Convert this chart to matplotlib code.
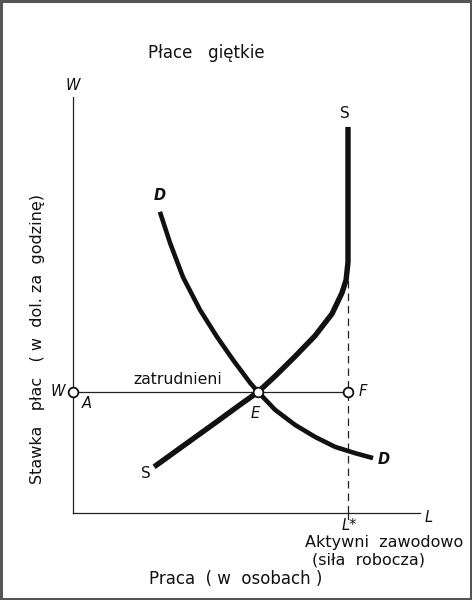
import matplotlib
matplotlib.use("Agg")
import matplotlib.pyplot as plt
from matplotlib.patches import Rectangle

# ---- data (economic units: labour L on x, wage W on y) ----
L_star = 100.0
W_star = 29.1
E_point = (67.3, 29.1)

supply_L = [29.5, 40.0, 52.4, 60.7, 67.3, 73.5, 80.7, 88.0, 94.2, 97.8, 99.3, 100.0, 100.0]
supply_W = [11.1, 16.1, 22.0, 26.0, 29.1, 32.9, 37.6, 42.6, 47.9, 52.9, 56.0, 60.3, 92.8]

demand_L = [31.6, 35.3, 40.0, 46.2, 52.4, 58.2, 64.4, 67.3, 73.5, 80.7, 88.0, 95.3, 102.5, 109.1]
demand_W = [72.4, 64.9, 56.7, 48.8, 42.3, 36.8, 31.3, 29.1, 24.8, 21.2, 18.3, 15.9, 14.4, 13.2]

title = "Płace   giętkie"
ylabel = "Stawka   płac   ( w  dol. za  godzinę)"
xlabel = "Praca  ( w  osobach )"
lf_label = ["Aktywni  zawodowo", "(siła  robocza)"]

W_PX, H_PX = 472, 600
fig = plt.figure(figsize=(W_PX / 100, H_PX / 100), dpi=100)
fig.patch.set_facecolor("white")

# axes box in pixels: x 73..420, y 97..513
x0, x1, y0, y1 = 73, 420, 97, 513
ax = fig.add_axes([x0 / W_PX, 1 - y1 / H_PX, (x1 - x0) / W_PX, (y1 - y0) / H_PX])
ax.set_xlim(0, (x1 - x0) / 2.75)
ax.set_ylim(0, 100)
for s in ["top", "right"]:
    ax.spines[s].set_visible(False)
for s in ["left", "bottom"]:
    ax.spines[s].set_linewidth(0.9)
    ax.spines[s].set_color("#222222")
ax.set_xticks([])
ax.set_yticks([])
ax.patch.set_alpha(0)

ink = "#111111"
# horizontal wage line and dashed labour-force line
ax.plot([0, L_star], [W_star, W_star], color="#222222", lw=0.9, zorder=2)
ax.plot([L_star, L_star], [0, 57], color="#222222", lw=0.9, ls=(0, (6, 4)), zorder=2)
# tick at L*
ax.plot([L_star, L_star], [0, -1.5], color="#222222", lw=0.9, clip_on=False)

ax.plot(supply_L, supply_W, color=ink, lw=3.9, solid_capstyle="butt",
        solid_joinstyle="round", zorder=3, clip_on=False)
ax.plot(demand_L, demand_W, color=ink, lw=3.3, solid_capstyle="butt",
        solid_joinstyle="round", zorder=3, clip_on=False)

ax.plot([0, E_point[0], L_star], [W_star, W_star, W_star], ls="none", marker="o",
        ms=7, mfc="white", mec=ink, mew=1.3, zorder=5, clip_on=False)

def ftext(px, py, s, **kw):
    kw.setdefault("fontsize", 10.5)
    kw.setdefault("color", ink)
    kw.setdefault("ha", "center")
    kw.setdefault("va", "center")
    fig.text(px / W_PX, 1 - py / H_PX, s, **kw)

ftext(206, 53, title, fontsize=12)
ftext(73, 86, "W", style="italic")
ftext(345, 113, "S", fontsize=11)
ftext(146, 474, "S", fontsize=11)
ftext(160, 196, "D", weight="bold", style="italic")
ftext(384, 459, "D", weight="bold", style="italic")
ftext(178, 380, "zatrudnieni", fontsize=11.3)
ftext(58, 392, "W", style="italic")
ftext(87, 403, "A", style="italic")
ftext(255, 413, "E", style="italic")
ftext(363, 392, "F", style="italic")
ftext(429, 517, "L", style="italic")
ftext(349, 526, "L*", style="italic")
ftext(384, 543, lf_label[0], fontsize=11.5)
ftext(369, 560, lf_label[1], fontsize=11.5)
ftext(236, 579, xlabel, fontsize=12)
ftext(38, 339, ylabel, fontsize=11.5, rotation=90)

# scanned frame border
fig.patches.append(Rectangle((0.002, 0.002), 0.996, 0.996, transform=fig.transFigure,
                             fill=False, ec="#555555", lw=2.2))

fig.savefig("out.png", dpi=100)
